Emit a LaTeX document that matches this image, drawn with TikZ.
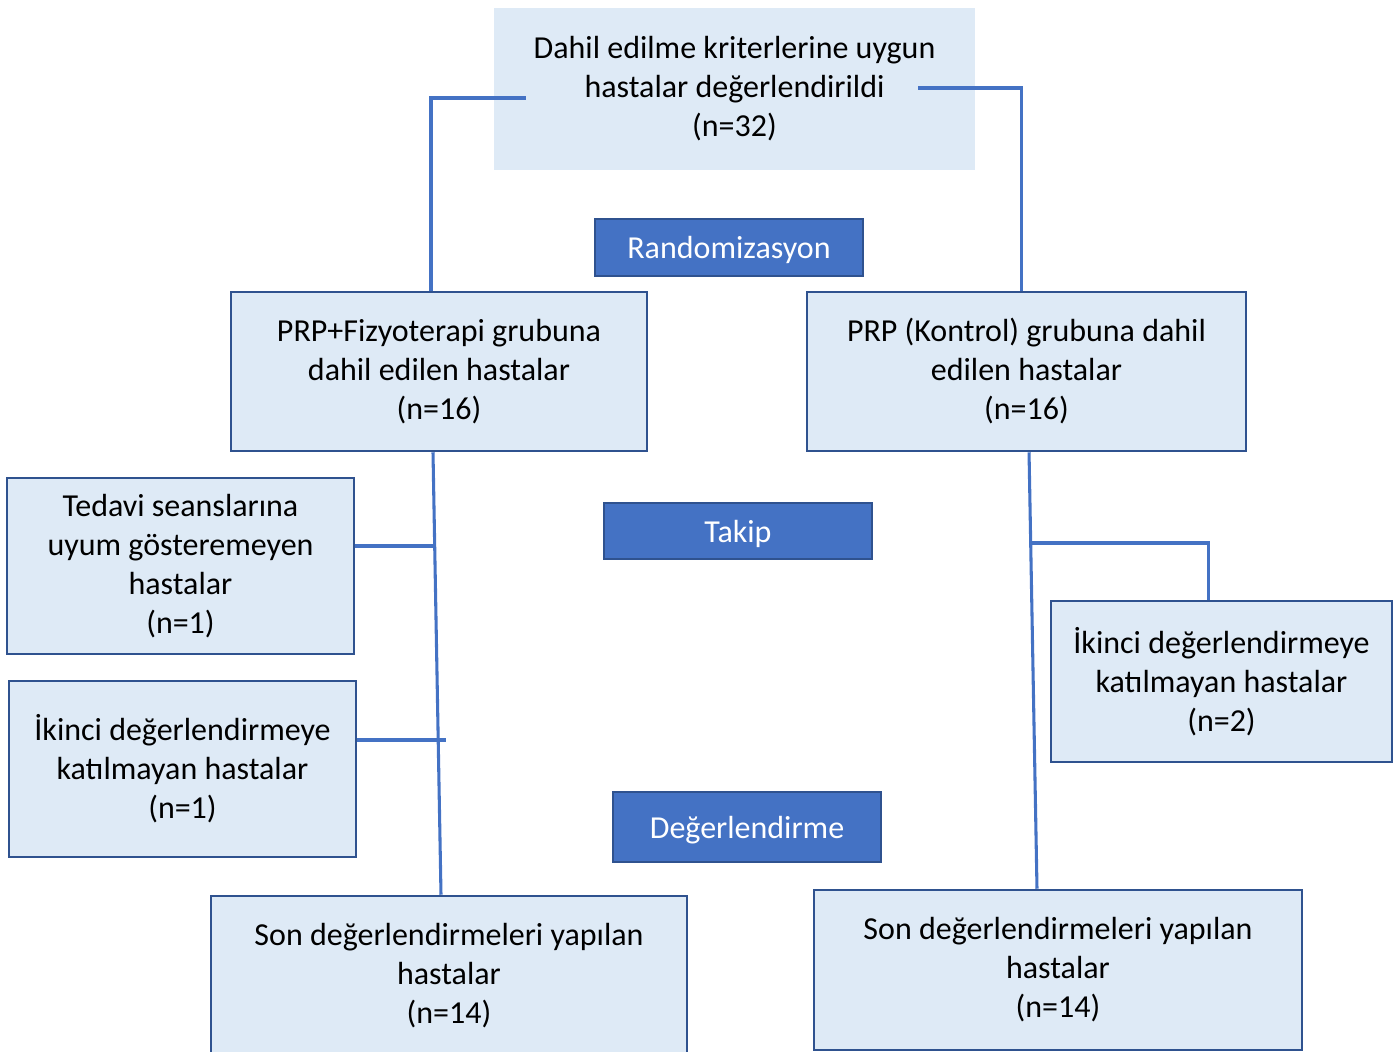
\documentclass[tikz,border=0pt]{standalone}
\usepackage{fontspec}
\setmainfont{Carlito}
\definecolor{lightfill}{HTML}{DEEAF6}
\definecolor{boxborder}{HTML}{2F528F}
\definecolor{accent}{HTML}{4472C4}
\tikzset{
  sz/.style 2 args={minimum width=#1*0.75pt, minimum height=#2*0.75pt},
  lbox/.style={draw=boxborder, line width=1.9pt, fill=lightfill, align=center, inner sep=0pt,
    font=\fontsize{24}{29.25}\selectfont, text=black},
  topbox/.style={fill=lightfill, align=center, inner sep=0pt,
    font=\fontsize{24}{29.25}\selectfont, text=black},
  bbox/.style={draw=boxborder, line width=1.9pt, fill=accent, align=center, inner sep=0pt,
    font=\fontsize{24}{29.25}\selectfont, text=white, text depth=0pt},
  conn/.style={draw=accent, line width=2.3pt}
}
\begin{document}
\begin{tikzpicture}[x=0.75pt, y=-0.75pt]
\useasboundingbox (0,0) rectangle (1397,1052);
% boxes
\node[topbox, sz={481}{162}] (top) at (734.5,89) {Dahil edilme kriterlerine uygun\\hastalar değerlendirildi\\(n=32)};
\node[bbox, sz={268}{57}] (rand) at (729,247.5) {Randomizasyon};
\node[lbox, sz={416}{159}] (pf) at (439,371.5) {PRP+Fizyoterapi grubuna\\dahil edilen hastalar\\(n=16)};
\node[lbox, sz={439}{159}] (pk) at (1026.5,371.5) {PRP (Kontrol) grubuna dahil\\edilen hastalar\\(n=16)};
\node[lbox, sz={347}{176}] (ted) at (180.5,566) {Tedavi seanslarına\\uyum gösteremeyen\\hastalar\\(n=1)};
\node[bbox, sz={268}{56}] (takip) at (738,531) {Takip};
\node[lbox, sz={347}{176}] (ik1) at (182.5,769) {İkinci değerlendirmeye\\katılmayan hastalar\\(n=1)};
\node[lbox, sz={341}{161}] (ik2) at (1221.5,681.5) {İkinci değerlendirmeye\\katılmayan hastalar\\(n=2)};
\node[bbox, sz={268}{70}] (deg) at (747,827) {Değerlendirme};
\node[lbox, sz={476}{160}] (sl) at (449,976) {Son değerlendirmeleri yapılan\\hastalar\\(n=14)};
\node[lbox, sz={488}{160}] (sr) at (1058,970) {Son değerlendirmeleri yapılan\\hastalar\\(n=14)};
% connectors
\draw[conn] ([xshift=24pt,yshift=-6.75pt]top.west) -| ([xshift=-6pt]pf.north);
\draw[conn] ([xshift=-42.75pt,yshift=0.75pt]top.east) -| ([xshift=-4.1pt]pk.north);
\draw[conn] ([xshift=-4.5pt]pf.south) -- ([xshift=-6pt]sl.north);
\coordinate (tedend) at (434.7,546);
\draw[conn] ([yshift=15pt]ted.east) -- (tedend);
\coordinate (ik1end) at (446,740);
\draw[conn] ([yshift=21.75pt]ik1.east) -- (ik1end);
\draw[conn] ([xshift=1.9pt]pk.south) -- ([xshift=-15.75pt]sr.north);
\coordinate (rbr) at (1030.7,543);
\draw[conn] (rbr) -| ([xshift=-10.1pt]ik2.north);
\end{tikzpicture}
\end{document}
